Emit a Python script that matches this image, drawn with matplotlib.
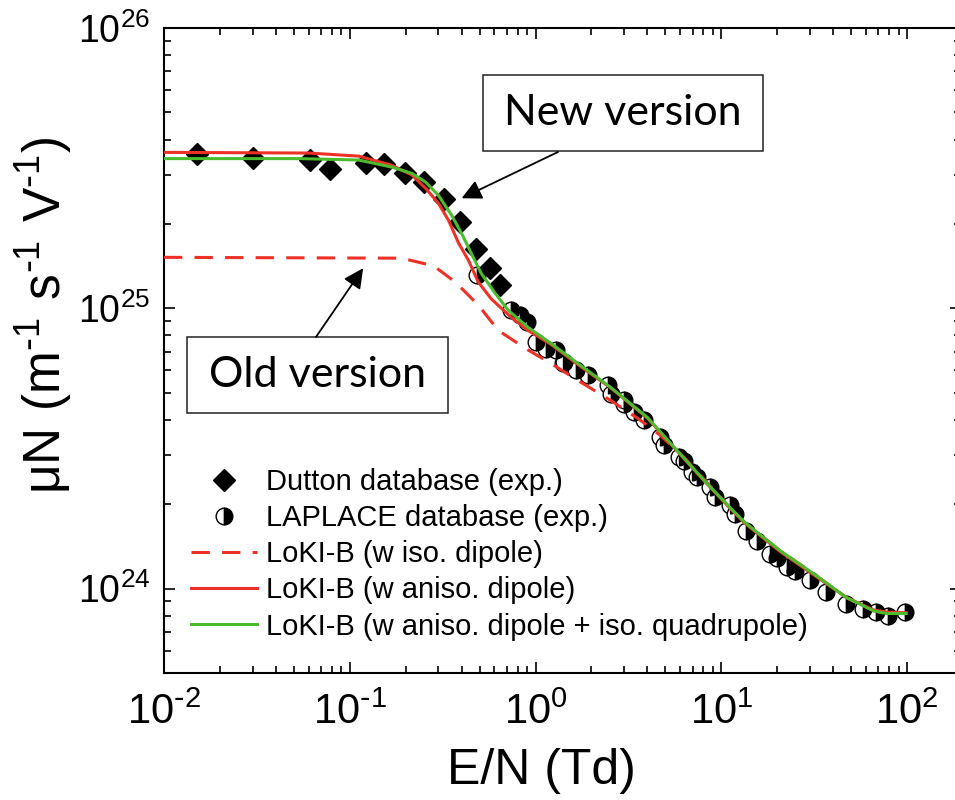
import numpy as np
import matplotlib
matplotlib.use('Agg')
import matplotlib.pyplot as plt
from matplotlib.ticker import LogLocator, NullFormatter
from matplotlib.patches import Rectangle

plt.rcParams['font.family'] = ['Liberation Sans', 'DejaVu Sans']

###############################################################
#   datos
###############################################################
dutton_x = [0.015, 0.030, 0.061, 0.078, 0.123, 0.152, 0.198, 0.25, 0.32, 0.39, 0.48, 0.57, 0.64]
dutton_y = [3.54e25, 3.44e25, 3.38e25, 3.13e25, 3.30e25, 3.26e25, 3.05e25, 2.83e25, 2.46e25,
            2.03e25, 1.63e25, 1.39e25, 1.21e25]

laplace_x = [0.482, 0.74, 0.822, 0.894, 1.01, 1.14, 1.29, 1.40, 1.43, 1.65, 1.91, 2.44, 2.55,
             2.98, 3.0, 3.40, 3.85, 4.7, 4.9, 5.92, 6.30, 6.97, 7.41, 8.74, 9.29, 11.2, 11.9,
             13.5, 15.5, 18.3, 19.9, 22.5, 24.9, 30.0, 36.8, 47.1, 57.9, 68.2, 78.9, 96.8]
laplace_y = [1.31e25, 9.84e24, 9.44e24, 8.94e24, 7.58e24, 7.18e24, 7.08e24, 6.36e24, 6.43e24,
             6.01e24, 5.77e24, 5.31e24, 4.96e24, 4.57e24, 4.69e24, 4.26e24, 3.98e24, 3.47e24,
             3.25e24, 2.94e24, 2.86e24, 2.60e24, 2.50e24, 2.30e24, 2.12e24, 1.98e24, 1.85e24,
             1.61e24, 1.48e24, 1.33e24, 1.29e24, 1.19e24, 1.16e24, 1.07e24, 9.70e23, 8.81e23,
             8.46e23, 8.23e23, 8.01e23, 8.23e23]

# LoKI-B iso. dipole (version antigua)
iso_x = [0.01, 0.168, 0.19, 0.267, 0.29, 0.37, 0.49, 0.63, 0.88, 1.21, 1.69, 2.54, 3.55, 4.7,
         6.3, 8.7, 11.1, 13.4, 20.6, 31.4, 47.1, 65.8, 77.2, 98.8]
iso_y = [1.52e25, 1.51e25, 1.51e25, 1.43e25, 1.40e25, 1.24e25, 1.03e25, 8.34e24, 7.20e24,
         6.36e24, 5.53e24, 4.69e24, 4.05e24, 3.52e24, 2.94e24, 2.32e24, 1.95e24, 1.72e24,
         1.37e24, 1.13e24, 9.29e23, 8.34e23, 8.15e23, 8.15e23]

# LoKI-B aniso. dipole
aniso_x = [0.01, 0.0605, 0.112, 0.168, 0.216, 0.256, 0.30, 0.34, 0.385, 0.436, 0.492, 0.578,
           0.739, 0.91, 1.21, 1.69, 2.54, 4.0, 5.6, 8.1, 11.1, 13.4, 20.6, 31.4, 47.1, 65.8,
           77.2, 98.8]
aniso_y = [3.60e25, 3.58e25, 3.49e25, 3.24e25, 2.99e25, 2.68e25, 2.37e25, 2.06e25, 1.71e25,
           1.48e25, 1.24e25, 1.08e25, 9.29e24, 8.34e24, 7.44e24, 6.30e24, 5.20e24, 4.06e24,
           3.17e24, 2.42e24, 1.94e24, 1.71e24, 1.36e24, 1.12e24, 9.3e23, 8.4e23, 8.25e23, 8.2e23]

# LoKI-B aniso. dipole + iso. quadrupole
quad_x = [0.01, 0.0535, 0.112, 0.168, 0.216, 0.256, 0.30, 0.353, 0.40, 0.451, 0.511, 0.607,
          0.713, 0.912, 1.21, 1.69, 2.54, 4.0, 5.58, 8.09, 11.1, 13.4, 20.6, 31.4, 47.1, 65.8,
          77.2, 98.8]
quad_y = [3.42e25, 3.42e25, 3.38e25, 3.19e25, 3.03e25, 2.82e25, 2.53e25, 2.15e25, 1.85e25,
          1.57e25, 1.33e25, 1.13e25, 9.84e24, 8.55e24, 7.50e24, 6.36e24, 5.22e24, 4.08e24,
          3.19e24, 2.43e24, 1.95e24, 1.72e24, 1.37e24, 1.13e24, 9.29e23, 8.34e23, 8.15e23,
          8.15e23]

xticks = [1e-2, 1e-1, 1e0, 1e1, 1e2]
xticklabels = [r'$\mathregular{10^{\text{-}2}}$', r'$\mathregular{10^{\text{-}1}}$',
               r'$\mathregular{10^{0}}$', r'$\mathregular{10^{1}}$', r'$\mathregular{10^{2}}$']
yticks = [1e24, 1e25, 1e26]
yticklabels = [r'$\mathregular{10^{24}}$', r'$\mathregular{10^{25}}$', r'$\mathregular{10^{26}}$']

rojo = '#ec3226'
verde = '#4dbb2e'
calibri = ['Lato', 'DejaVu Sans']

###############################################################
#   figura
###############################################################
fig = plt.figure(figsize=(9.55, 8), dpi=100)
ax = fig.add_axes([0.1717, 0.15875, 0.8346, 0.80625])

ax.plot(dutton_x, dutton_y, linestyle='none', marker='D', ms=11, color='black',
        label='Dutton database (exp.)', zorder=2)
ax.plot(laplace_x, laplace_y, linestyle='none', marker='o', ms=12, fillstyle='left',
        markerfacecolor='white', markerfacecoloralt='black', markeredgecolor='black',
        mew=1.0, label='LAPLACE database (exp.)', zorder=2)
ax.plot(iso_x, iso_y, color=rojo, lw=2.2, dashes=(6, 4), label='LoKI-B (w iso. dipole)', zorder=3)
ax.plot(aniso_x, aniso_y, color=rojo, lw=2.2, label='LoKI-B (w aniso. dipole)', zorder=3)
ax.plot(quad_x, quad_y, color=verde, lw=2.2,
        label='LoKI-B (w aniso. dipole + iso. quadrupole)', zorder=4)

ax.set_xscale('log')
ax.set_yscale('log')
ax.set_xlim(1e-2, 10**2.29)
ax.set_ylim(5e23, 1e26)

ax.set_xticks(xticks)
ax.set_xticklabels(xticklabels, fontsize=30)
ax.set_yticks(yticks)
ax.set_yticklabels(yticklabels, fontsize=27)
ax.xaxis.set_minor_locator(LogLocator(base=10, subs=np.arange(2, 10), numticks=20))
ax.yaxis.set_minor_locator(LogLocator(base=10, subs=np.arange(2, 10), numticks=20))
ax.xaxis.set_minor_formatter(NullFormatter())
ax.yaxis.set_minor_formatter(NullFormatter())

ax.tick_params(which='both', direction='in', top=True, right=True, width=1.2)
ax.tick_params(which='major', length=8)
ax.tick_params(which='minor', length=5)
ax.tick_params(axis='x', which='major', pad=14)
ax.tick_params(axis='y', which='major', pad=10)
for s in ax.spines.values():
    s.set_linewidth(1.5)
ax.spines['right'].set_visible(False)   # el borde derecho queda fuera del recorte

ax.set_xlabel('E/N (Td)', fontsize=36)
ax.xaxis.set_label_coords(0.473, -0.116)
ax.set_ylabel(r'$\mathregular{μN\ (m^{\text{-}1}\ s^{\text{-}1}\ V^{\text{-}1})}$', fontsize=37)
ax.yaxis.set_label_coords(-0.112, 0.555)

ax.legend(loc='upper left', bbox_to_anchor=(0.034, 0.318), frameon=False, fontsize=21,
          numpoints=1, handlelength=2.27, handletextpad=0.3, labelspacing=0.28,
          borderpad=0, borderaxespad=0)

# cuadros de texto con flechas (en fraccion de ejes)
for (x0, y0, w, h) in [(0.4003, 0.8093, 0.3513, 0.1178), (0.0289, 0.4031, 0.3274, 0.1178)]:
    ax.add_patch(Rectangle((x0, y0), w, h, transform=ax.transAxes, fc='white',
                           ec='#222222', lw=1.1, zorder=5))
ax.text(0.5759, 0.8682, 'New version', transform=ax.transAxes, ha='center', va='center',
        family=calibri, fontsize=31, zorder=6)
ax.text(0.1926, 0.462, 'Old version', transform=ax.transAxes, ha='center', va='center',
        family=calibri, fontsize=31, zorder=6)
flecha = dict(arrowstyle='-|>', mutation_scale=30, lw=1.3, color='black', shrinkA=0, shrinkB=0)
ax.annotate('', xy=(0.40, 2.47e25), xycoords='data', xytext=(0.4944, 0.8078),
            textcoords='axes fraction', arrowprops=flecha, zorder=6)
ax.annotate('', xy=(0.118, 1.39e25), xycoords='data', xytext=(0.1907, 0.4031 + 0.1178),
            textcoords='axes fraction', arrowprops=flecha, zorder=6)

fig.savefig('out.png', dpi=100)
